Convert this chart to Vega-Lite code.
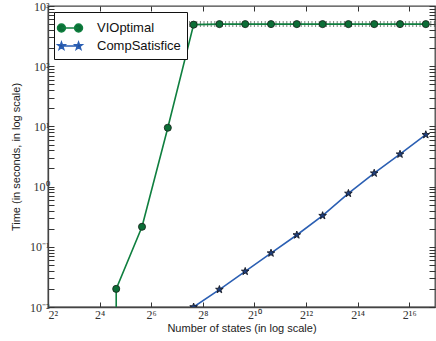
{
  "$schema": "https://vega.github.io/schema/vega-lite/v6.json",
  "width": 387,
  "height": 301,
  "autosize": "none",
  "padding": {"left": 48, "top": 6, "right": 1, "bottom": 34},
  "background": "white",
  "config": {
    "view": {"stroke": "#444", "strokeWidth": 1.3},
    "axis": {
      "grid": false,
      "labelFont": "Liberation Serif",
      "labelFontSize": 12,
      "labelColor": "#333",
      "titleFont": "Liberation Sans",
      "titleFontSize": 11,
      "titleFontWeight": "normal",
      "titleColor": "#222",
      "domainColor": "#444",
      "domainWidth": 1.3,
      "tickColor": "#333",
      "tickWidth": 1
    }
  },
  "datasets": {
    "vals": [
      {"series": "VIOptimal", "i": 0, "n": 25, "t": 0.0001},
      {"series": "VIOptimal", "i": 1, "n": 25, "t": 0.02},
      {"series": "VIOptimal", "i": 2, "n": 50, "t": 0.215},
      {"series": "VIOptimal", "i": 3, "n": 100, "t": 9.5},
      {"series": "VIOptimal", "i": 4, "n": 200, "t": 490},
      {"series": "VIOptimal", "i": 5, "n": 400, "t": 500},
      {"series": "VIOptimal", "i": 6, "n": 800, "t": 500},
      {"series": "VIOptimal", "i": 7, "n": 1600, "t": 500},
      {"series": "VIOptimal", "i": 8, "n": 3200, "t": 500},
      {"series": "VIOptimal", "i": 9, "n": 6400, "t": 500},
      {"series": "VIOptimal", "i": 10, "n": 12800, "t": 500},
      {"series": "VIOptimal", "i": 11, "n": 25600, "t": 500},
      {"series": "VIOptimal", "i": 12, "n": 51200, "t": 500},
      {"series": "VIOptimal", "i": 13, "n": 102400, "t": 500},
      {"series": "CompSatisfice", "i": 0, "n": 200, "t": 0.01},
      {"series": "CompSatisfice", "i": 1, "n": 400, "t": 0.0195},
      {"series": "CompSatisfice", "i": 2, "n": 800, "t": 0.039},
      {"series": "CompSatisfice", "i": 3, "n": 1600, "t": 0.0785},
      {"series": "CompSatisfice", "i": 4, "n": 3200, "t": 0.157},
      {"series": "CompSatisfice", "i": 5, "n": 6400, "t": 0.329},
      {"series": "CompSatisfice", "i": 6, "n": 12800, "t": 0.77},
      {"series": "CompSatisfice", "i": 7, "n": 25600, "t": 1.67},
      {"series": "CompSatisfice", "i": 8, "n": 51200, "t": 3.45},
      {"series": "CompSatisfice", "i": 9, "n": 102400, "t": 7.27}
    ],
    "plateau": [
      {"n": 146, "n2": 131072, "t": 500}
    ]
  },
  "layer": [
    {
      "data": {"name": "plateau"},
      "mark": {"type": "rule", "strokeDash": [1, 2.6], "strokeWidth": 6, "color": "#3d4d42", "opacity": 0.7, "clip": true},
      "encoding": {
        "x": {"field": "n", "type": "quantitative", "scale": {"type": "log", "base": 2, "domain": [4, 131072], "nice": false}, "axis": null},
        "x2": {"field": "n2"},
        "y": {"field": "t", "type": "quantitative", "scale": {"type": "log", "domain": [0.01, 1000], "nice": false}, "axis": null}
      }
    },
    {
      "data": {"name": "vals"},
      "mark": {"type": "line", "strokeWidth": 1.6, "clip": true},
      "encoding": {
        "x": {
          "field": "n", "type": "quantitative",
          "scale": {"type": "log", "base": 2, "domain": [4, 131072], "nice": false},
          "axis": {
            "orient": "bottom",
            "title": "Number of states (in log scale)",
            "values": [4, 16, 64, 256, 1024, 4096, 16384, 65536],
            "labelExpr": "datum.value == 4 ? '2²' : datum.value == 16 ? '2⁴' : datum.value == 64 ? '2⁶' : datum.value == 256 ? '2⁸' : datum.value == 1024 ? '2¹⁰' : datum.value == 4096 ? '2¹²' : datum.value == 16384 ? '2¹⁴' : datum.value == 65536 ? '2¹⁶' : ''",
            "tickSize": -5,
            "labelPadding": 7,
            "labelBound": false,
            "labelOverlap": false,
            "titlePadding": 2
          }
        },
        "y": {
          "field": "t", "type": "quantitative",
          "scale": {"type": "log", "domain": [0.01, 1000], "nice": false},
          "axis": {
            "orient": "left",
            "title": "Time (in seconds, in log scale)",
            "values": [0.01,0.02,0.03,0.04,0.05,0.06,0.07,0.08,0.09,0.1,0.2,0.3,0.4,0.5,0.6,0.7,0.8,0.9,1,2,3,4,5,6,7,8,9,10,20,30,40,50,60,70,80,90,100,200,300,400,500,600,700,800,900,1000],
            "labelExpr": "abs(log(datum.value)/LN10 - round(log(datum.value)/LN10)) > 0.000001 ? '' : round(log(datum.value)/LN10) == 3 ? '10³' : round(log(datum.value)/LN10) == 2 ? '10²' : round(log(datum.value)/LN10) == 1 ? '10¹' : round(log(datum.value)/LN10) == 0 ? '10⁰' : round(log(datum.value)/LN10) == -1 ? '10⁻¹' : '10⁻²'",
            "tickSize": -6,
            "labelPadding": 5,
            "labelBound": false,
            "labelOverlap": false,
            "titlePadding": 8,
            "encode": {
              "ticks": {
                "update": {
                  "x2": {"signal": "abs(log(datum.value)/LN10 - round(log(datum.value)/LN10)) < 0.000001 ? 6 : 3"}
                }
              }
            }
          }
        },
        "color": {
          "field": "series", "type": "nominal",
          "scale": {"domain": ["VIOptimal", "CompSatisfice"], "range": ["#0f7f3f", "#2b5fb3"]},
          "legend": {
            "title": null,
            "orient": "top-left",
            "offset": 6,
            "padding": 6,
            "strokeColor": "#111",
            "fillColor": "white",
            "labelFont": "Liberation Sans",
            "labelFontSize": 13,
            "labelColor": "#111",
            "labelOffset": 17,
            "symbolSize": 324,
            "rowPadding": 1,
            "encode": {
              "symbols": {
                "update": {
                  "shape": {"signal": "datum.value === 'VIOptimal' ? 'M-0.95,0L0.95,0M-1.39,0A0.44,0.44,0,1,0,-0.51,0A0.44,0.44,0,1,0,-1.39,0ZM0.51,0A0.44,0.44,0,1,0,1.39,0A0.44,0.44,0,1,0,0.51,0Z' : 'M-0.95,0L0.95,0M-0.95,-0.42L-0.851,-0.136L-0.551,-0.13L-0.79,0.052L-0.703,0.34L-0.95,0.168L-1.197,0.34L-1.11,0.052L-1.349,-0.13L-1.049,-0.136ZM0.95,-0.42L1.049,-0.136L1.349,-0.13L1.11,0.052L1.197,0.34L0.95,0.168L0.703,0.34L0.79,0.052L0.551,-0.13L0.851,-0.136Z'"},
                  "fill": {"signal": "datum.value === 'VIOptimal' ? '#0b6e36' : '#1e3f7f'"},
                  "stroke": {"signal": "datum.value === 'VIOptimal' ? '#0f7f3f' : '#2b5fb3'"},
                  "strokeWidth": {"value": 1.5},
                  "opacity": {"value": 1}
                }
              }
            }
          }
        },
        "order": {"field": "i", "type": "quantitative"}
      }
    },
    {
      "data": {"name": "vals"},
      "transform": [{"filter": "datum.series === 'VIOptimal'"}],
      "mark": {"type": "point", "shape": "circle", "size": 50, "filled": true, "fill": "#0b6e36", "stroke": "#1b2a20", "strokeWidth": 0.9, "opacity": 1, "clip": true},
      "encoding": {
        "x": {
          "field": "n", "type": "quantitative",
          "scale": {"type": "log", "base": 2, "domain": [4, 131072], "nice": false},
          "axis": {
            "orient": "top", "title": null, "labels": false,
            "values": [4, 16, 64, 256, 1024, 4096, 16384, 65536],
            "tickSize": -5, "domain": false
          }
        },
        "y": {
          "field": "t", "type": "quantitative",
          "scale": {"type": "log", "domain": [0.01, 1000], "nice": false},
          "axis": {
            "orient": "right", "title": null, "labels": false, "domain": false,
            "values": [0.01,0.02,0.03,0.04,0.05,0.06,0.07,0.08,0.09,0.1,0.2,0.3,0.4,0.5,0.6,0.7,0.8,0.9,1,2,3,4,5,6,7,8,9,10,20,30,40,50,60,70,80,90,100,200,300,400,500,600,700,800,900,1000],
            "tickSize": -6,
            "encode": {
              "ticks": {
                "update": {
                  "x2": {"signal": "abs(log(datum.value)/LN10 - round(log(datum.value)/LN10)) < 0.000001 ? -6 : -3"}
                }
              }
            }
          }
        }
      }
    },
    {
      "data": {"name": "vals"},
      "transform": [{"filter": "datum.series === 'CompSatisfice'"}],
      "mark": {"type": "point", "shape": "M0,-1L0.235,-0.324L0.951,-0.309L0.38,0.124L0.588,0.809L0,0.4L-0.588,0.809L-0.38,0.124L-0.951,-0.309L-0.235,-0.324Z", "size": 64, "filled": true, "fill": "#1e3f7f", "stroke": "#151a25", "strokeWidth": 0.9, "opacity": 1, "clip": true},
      "encoding": {
        "x": {"field": "n", "type": "quantitative", "scale": {"type": "log", "base": 2, "domain": [4, 131072], "nice": false}, "axis": null},
        "y": {"field": "t", "type": "quantitative", "scale": {"type": "log", "domain": [0.01, 1000], "nice": false}, "axis": null}
      }
    }
  ],
  "resolve": {"axis": {"x": "independent", "y": "independent"}}
}
